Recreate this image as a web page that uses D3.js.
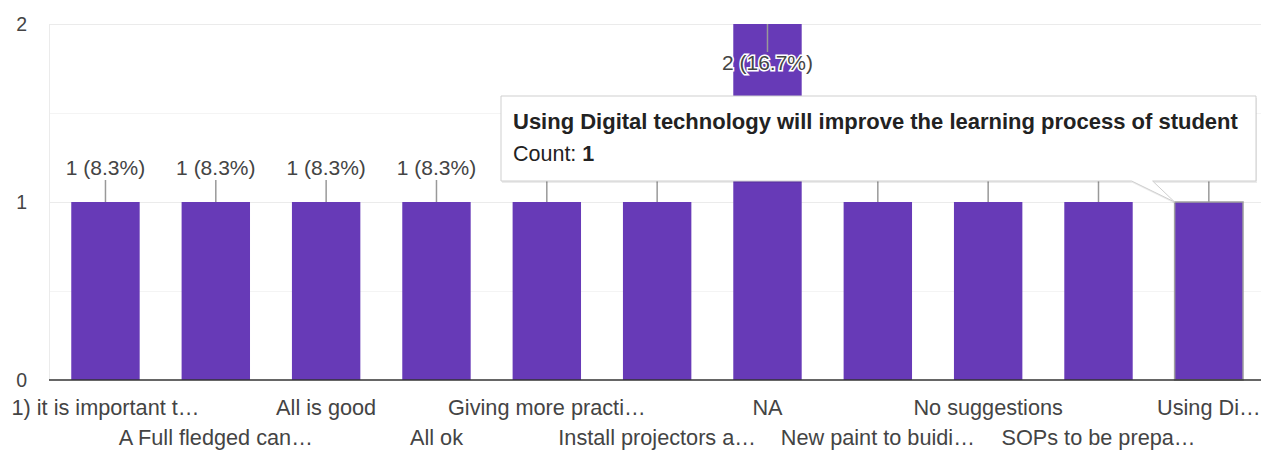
<!DOCTYPE html>
<html>
    <head>
        <meta charset="utf-8">
        <style>

        html, body {
            margin: 0px;
            background: #fff;
        }

        svg {
            display: block;
            font-family: "Liberation Sans", Arial, sans-serif;
        }

        .grid line {
          stroke: #ebebeb;
          shape-rendering: crispEdges;
        }

        .grid line.minor {
          stroke: #f4f4f4;
        }

        .axis text {
          font-size: 19.5px;
          fill: #444;
        }

        .cat text {
          font-size: 21.7px;
          fill: #444;
        }

        .note text {
          font-size: 21px;
          fill: #444;
        }

        </style>
    </head>
    <body>
        <svg class="chart" width="1261" height="452"></svg>
        <script src="https://d3js.org/d3.v7.min.js"></script>
        <script>
            var categories = ["1) it is important t\u2026", "A Full fledged can\u2026", "All is good", "All ok",
                              "Giving more practi\u2026", "Install projectors a\u2026", "NA", "New paint to buidi\u2026",
                              "No suggestions", "SOPs to be prepa\u2026", "Using Di\u2026"];
            var counts = [1, 1, 1, 1, 1, 1, 2, 1, 1, 1, 1];
            var yTicks = [0, 1, 2];
            var minorTicks = [0.5, 1.5];

            // tooltip shown for the hovered bar
            var hovered = 10;
            var hoverTitle = "Using Digital technology will improve the learning process of student";

            var total = d3.sum(counts);
            var data = categories.map(function(c, i) { return {name: c, value: counts[i], i: i}; });

            var chart = d3.select(".chart");
            var left = 49, right = 1261;

            var x = d3.scaleBand().domain(d3.range(categories.length)).range([50.3, 1264]).paddingInner(0.38).paddingOuter(0.19);
            var y = d3.scaleLinear().domain([0, 2]).range([380, 24]);

            // tooltip box (covers the annotations under it)
            var tx0 = 501, ty0 = 96, tx1 = 1256, ty1 = 181;

            // gridlines
            var grid = chart.append("g").attr("class", "grid");
            grid.selectAll("line.minor")
                .data(minorTicks)
                .enter().append("line")
                .attr("class", "minor")
                .attr("x1", left).attr("x2", right)
                .attr("y1", function(d) { return Math.round(y(d)) + 0.5; })
                .attr("y2", function(d) { return Math.round(y(d)) + 0.5; });
            grid.selectAll("line.major")
                .data(yTicks.filter(function(d) { return d > 0; }))
                .enter().append("line")
                .attr("class", "major")
                .attr("x1", left).attr("x2", right)
                .attr("y1", function(d) { return Math.round(y(d)) + 0.5; })
                .attr("y2", function(d) { return Math.round(y(d)) + 0.5; });
            grid.append("line")
                .attr("x1", left + 0.5).attr("x2", left + 0.5)
                .attr("y1", y(2)).attr("y2", y(0));

            // y axis labels
            var yAxis = d3.axisLeft(y).tickValues(yTicks).tickSize(0).tickPadding(0).tickFormat(d3.format("d"));
            chart.append("g")
                .attr("class", "axis")
                .attr("transform", "translate(27,0)")
                .call(yAxis)
                .call(function(g) { g.select(".domain").remove(); });

            // bars
            chart.append("g").selectAll("rect")
                .data(data)
                .enter().append("rect")
                .attr("x", function(d) { return x(d.i); })
                .attr("y", function(d) { return y(d.value); })
                .attr("width", x.bandwidth())
                .attr("height", function(d) { return y(0) - y(d.value); })
                .attr("fill", "#673ab7")
                .attr("stroke", function(d) { return d.i === hovered ? "#a0a0a0" : "none"; })
                .attr("stroke-width", 1.5);

            // baseline
            chart.append("line")
                .attr("x1", left).attr("x2", right)
                .attr("y1", y(0)).attr("y2", y(0))
                .attr("stroke", "#333")
                .attr("stroke-width", 1.5);

            // annotations: leader line + "n (p%)"
            var fmt = d3.format(".1f");
            function inside(d) { return y(d.value) - 40 < y(2); }
            function cx(d) { return x(d.i) + x.bandwidth() / 2; }
            function covered(d) {
                return !inside(d) && cx(d) + 45 > tx0 && y(d.value) - 27 > ty0;
            }

            var note = chart.append("g").attr("class", "note");
            var notes = note.selectAll("g")
                .data(data)
                .enter().append("g")
                .attr("transform", function(d) { return "translate(" + cx(d) + "," + y(d.value) + ")"; });

            notes.append("line")
                .attr("x1", 0).attr("x2", 0)
                .attr("y1", function(d) { return inside(d) ? 0 : -22; })
                .attr("y2", function(d) { return inside(d) ? 28 : 0; })
                .attr("stroke", "#999")
                .attr("stroke-width", 1.5);

            notes.filter(function(d) { return !covered(d); })
                .append("text")
                .attr("text-anchor", "middle")
                .attr("y", function(d) { return inside(d) ? 46 : -27; })
                .attr("stroke", function(d) { return inside(d) ? "#fff" : "none"; })
                .attr("stroke-width", 3)
                .attr("paint-order", "stroke")
                .text(function(d) { return d.value + " (" + fmt(d.value / total * 100) + "%)"; });

            // category labels, staggered in two rows
            chart.append("g")
                .attr("class", "cat")
                .selectAll("text")
                .data(data)
                .enter().append("text")
                .attr("text-anchor", "middle")
                .attr("x", cx)
                .attr("y", function(d) { return d.i % 2 === 0 ? 415 : 445; })
                .text(function(d) { return d.name; });

            // tooltip
            var tip = chart.append("g");
            var bx = x(hovered), by = y(counts[hovered]);
            var path = "M" + tx0 + "," + ty0 + "H" + tx1 + "V" + ty1 + "H" + (bx - 22) +
                       "L" + bx + "," + by + "L" + (bx - 43) + "," + ty1 + "H" + tx0 + "Z";
            tip.append("path")
               .attr("d", path)
               .attr("transform", "translate(1,2)")
               .attr("fill", "rgba(0,0,0,0.08)");
            tip.append("path")
               .attr("d", path)
               .attr("fill", "#fff")
               .attr("stroke", "#cfcfcf")
               .attr("stroke-width", 1);
            tip.append("text")
               .attr("x", 513).attr("y", 129)
               .attr("font-size", "22px")
               .attr("font-weight", "bold")
               .attr("fill", "#222")
               .text(hoverTitle);
            var cnt = tip.append("text")
               .attr("x", 513).attr("y", 161)
               .attr("font-size", "21.5px")
               .attr("fill", "#222");
            cnt.append("tspan").text("Count: ");
            cnt.append("tspan").attr("font-weight", "bold").text(counts[hovered]);
        </script>
    </body>
</html>
